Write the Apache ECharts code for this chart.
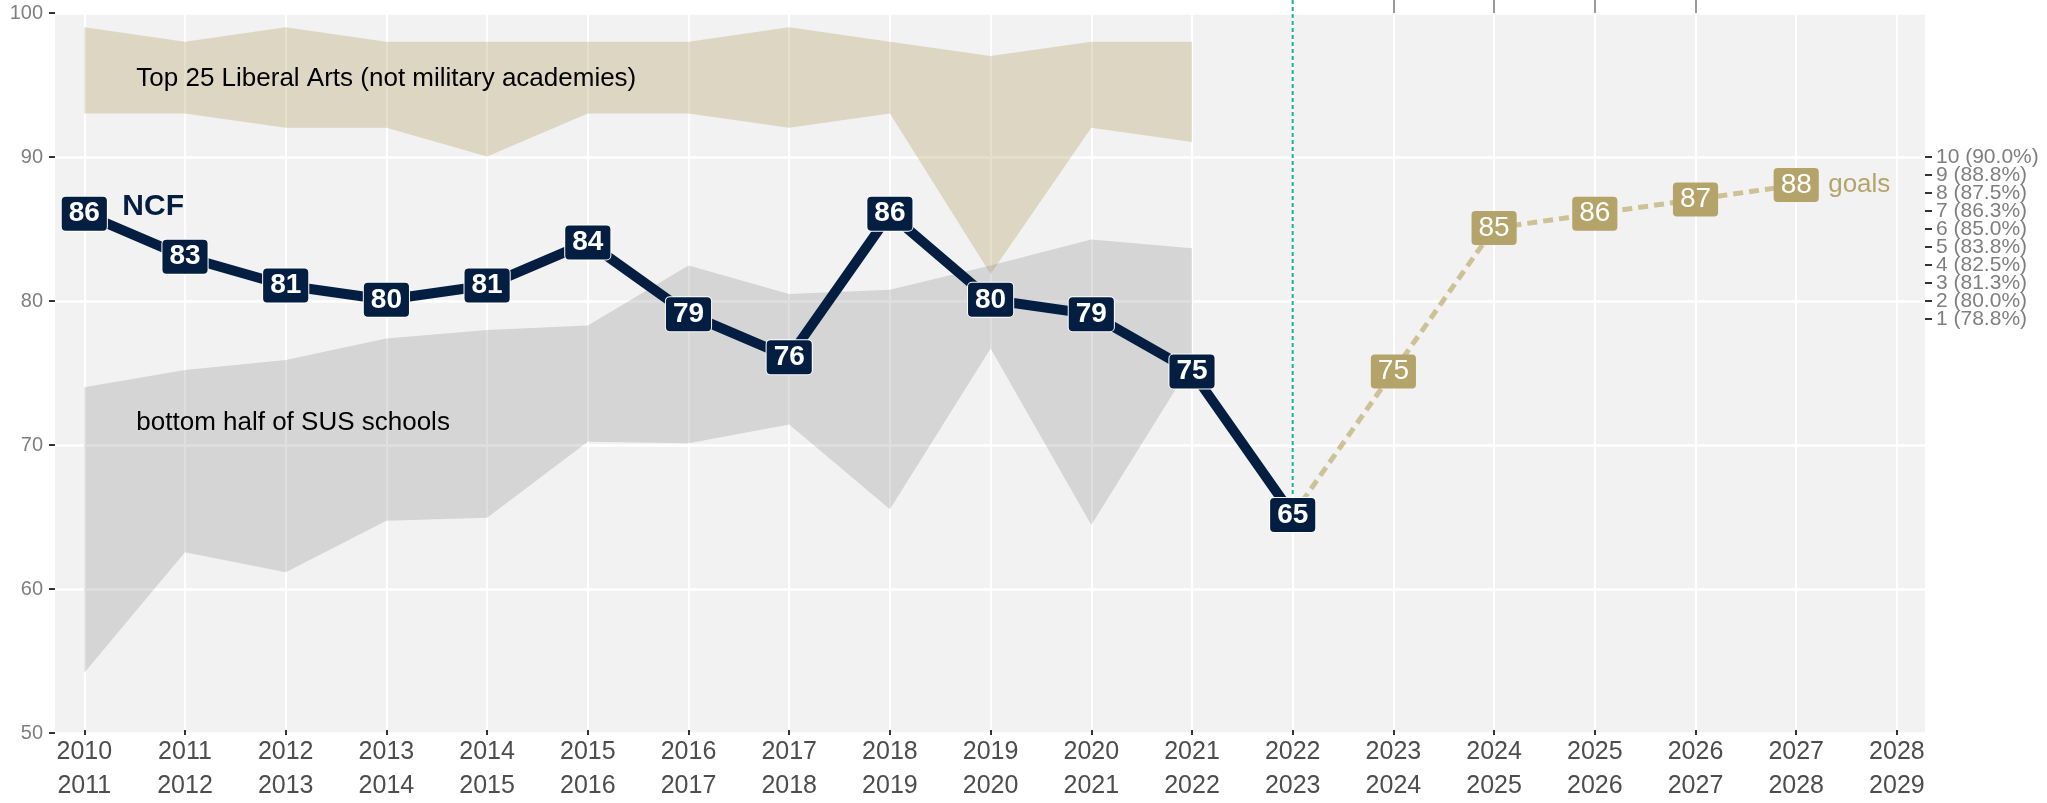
<!DOCTYPE html>
<html>
<head>
<meta charset="utf-8">
<script src="https://cdn.jsdelivr.net/npm/echarts@6/dist/echarts.min.js"></script>
<style>
  html, body { margin: 0; padding: 0; background: #fff; }
  #chart { width: 2047px; height: 803px; }
</style>
</head>
<body>
<div id="chart"></div>
<script>
const schoolYears = [
  '2010\n2011', '2011\n2012', '2012\n2013', '2013\n2014', '2014\n2015',
  '2015\n2016', '2016\n2017', '2017\n2018', '2018\n2019', '2019\n2020',
  '2020\n2021', '2021\n2022', '2022\n2023', '2023\n2024', '2024\n2025',
  '2025\n2026', '2026\n2027', '2027\n2028', '2028\n2029'
];

// NCF rates 2010-2022
const ncfRates = [86, 83, 81, 80, 81, 84, 79, 76, 86, 80, 79, 75, 65];

// goals, starting from the last actual value
const goalYearIdx = [12, 13, 14, 15, 16, 17];
const goalRates = [65, 75, 85, 86, 87, 88];

// peer bands 2010-2021
const top25Low = [93, 93, 92, 92, 90, 93, 93, 92, 93, 81.8, 92, 91];
const top25High = [99, 98, 99, 98, 98, 98, 98, 99, 98, 97, 98, 98];
const susLow = [54, 62.4, 61, 64.6, 64.8, 70.1, 70, 71.3, 65.4, 76.6, 64.3, 75.6];
const susHigh = [73.9, 75.1, 75.8, 77.3, 77.9, 78.2, 82.4, 80.4, 80.7, 82.4, 84.2, 83.6];

// right axis: rank goal steps
const rankTickValues = [78.75, 80, 81.25, 82.5, 83.75, 85, 86.25, 87.5, 88.75, 90];
const rankTickLabels = ['1 (78.8%)', '2 (80.0%)', '3 (81.3%)', '4 (82.5%)', '5 (83.8%)',
  '6 (85.0%)', '7 (86.3%)', '8 (87.5%)', '9 (88.8%)', '10 (90.0%)'];

const topTickIdx = [13, 14, 15, 16];

// vertical marker at the current year
const markerIdx = 12;
const markerRange = [65, 100.9];

const noteTexts = ['Top 25 Liberal Arts (not military academies)', 'bottom half of SUS schools'];
const noteValues = [95.4, 71.4];

const NAVY = '#041e42';
const GOLD = '#b5a46a';
const FONT = '"Liberation Sans", Arial, Helvetica, sans-serif';

const chart = echarts.init(document.getElementById('chart'), null, { renderer: 'canvas' });

const bandSeries = (name, low, high, color) => [
  {
    name: name + '-low',
    type: 'line',
    xAxisIndex: 1,
    yAxisIndex: 1,
    stack: name,
    data: low,
    symbol: 'none',
    lineStyle: { width: 0, opacity: 0 },
    silent: true
  },
  {
    name: name,
    type: 'line',
    xAxisIndex: 1,
    yAxisIndex: 1,
    stack: name,
    data: high.map((v, i) => +(v - low[i]).toFixed(2)),
    symbol: 'none',
    lineStyle: { width: 0, opacity: 0 },
    areaStyle: { color: color, opacity: 1 },
    silent: true
  }
];

const textPoint = (x, y, text, style) => ({
  type: 'scatter',
  xAxisIndex: 1,
  yAxisIndex: 1,
  data: [[x, y]],
  symbolSize: 1,
  itemStyle: { color: 'transparent', opacity: 1 },
  silent: true,
  z: 5,
  label: Object.assign({
    show: true,
    position: 'inside',
    align: 'left',
    formatter: text,
    opacity: 1,
    fontFamily: FONT
  }, style)
});

// the rank labels sit closer than their own height, so they are split over two
// right axes (odd / even steps) to keep echarts from hiding any of them
const rankAxis = (parity) => {
  const values = rankTickValues.filter((v, i) => i % 2 === parity);
  return {
    type: 'value',
    gridIndex: 0,
    position: 'right',
    min: 50,
    max: 100,
    axisLine: { show: false },
    axisTick: { show: true, length: 7, customValues: values, lineStyle: { color: '#333', width: 2 } },
    axisLabel: {
      customValues: values,
      color: '#7f7f7f',
      fontSize: 21,
      margin: 11,
      fontFamily: FONT,
      formatter: (v) => rankTickLabels[rankTickValues.indexOf(v)] || ''
    },
    splitLine: { show: false }
  };
};

chart.setOption({
  animation: false,
  textStyle: { fontFamily: FONT },
  grid: [
    { left: 55, right: 122, top: 13, bottom: 70, show: true, backgroundColor: '#f2f2f2', borderWidth: 0 },
    { left: 84.3, right: 150.1, top: 13, bottom: 70 }
  ],
  xAxis: [
    { type: 'value', gridIndex: 0, min: 0, max: 1, show: false },
    {
      type: 'category',
      gridIndex: 1,
      data: schoolYears,
      boundaryGap: false,
      axisLine: { show: false },
      axisTick: { show: true, interval: 0, length: 5, lineStyle: { color: '#333', width: 2 } },
      axisLabel: { interval: 0, color: '#4d4d4d', fontSize: 25, lineHeight: 34, margin: 5, fontFamily: FONT },
      splitLine: { show: true, interval: 0, lineStyle: { color: '#ffffff', width: 2 } }
    },
    {
      type: 'category',
      gridIndex: 1,
      position: 'top',
      data: schoolYears,
      boundaryGap: false,
      axisLine: { show: false },
      axisLabel: { show: false },
      splitLine: { show: false },
      axisTick: {
        show: true,
        interval: (i) => topTickIdx.includes(i),
        length: 13,
        lineStyle: { color: '#9a9a9a', width: 2 }
      }
    }
  ],
  yAxis: [
    {
      type: 'value',
      gridIndex: 0,
      min: 50,
      max: 100,
      interval: 10,
      axisLine: { show: false },
      axisTick: { show: true, length: 6, lineStyle: { color: '#333', width: 2 } },
      axisLabel: { color: '#7f7f7f', fontSize: 20, margin: 12, fontFamily: FONT },
      splitLine: { show: true, lineStyle: { color: '#ffffff', width: 2.5 } }
    },
    { type: 'value', gridIndex: 1, min: 50, max: 100, show: false },
    rankAxis(0),
    rankAxis(1)
  ],
  series: [
    ...bandSeries('top25', top25Low, top25High, 'rgba(181,164,106,0.35)'),
    ...bandSeries('sus', susLow, susHigh, 'rgba(127,127,127,0.25)'),
    {
      name: 'marker',
      type: 'line',
      xAxisIndex: 1,
      yAxisIndex: 1,
      data: markerRange.map((v) => [markerIdx, v]),
      symbol: 'none',
      clip: false,
      silent: true,
      lineStyle: { color: '#1ab394', width: 2, type: [4, 3] }
    },
    {
      name: 'goals',
      type: 'line',
      xAxisIndex: 1,
      yAxisIndex: 1,
      data: goalRates.map((v, i) => ({
        value: [goalYearIdx[i], v],
        label: { show: i > 0 }
      })),
      symbol: 'circle',
      symbolSize: 1,
      itemStyle: { color: '#cdc196' },
      lineStyle: { color: '#cdc196', width: 5, type: [10, 6] },
      label: {
        show: true,
        position: 'inside',
        formatter: (p) => p.value[1],
        color: '#ffffff',
        fontSize: 28,
        fontFamily: FONT,
        backgroundColor: GOLD,
        padding: [3, 7, 3, 7],
        borderRadius: 4
      }
    },
    {
      name: 'NCF',
      type: 'line',
      xAxisIndex: 1,
      yAxisIndex: 1,
      data: ncfRates,
      symbol: 'circle',
      symbolSize: 1,
      itemStyle: { color: NAVY },
      lineStyle: { color: NAVY, width: 10 },
      label: {
        show: true,
        position: 'inside',
        formatter: '{c}',
        color: '#ffffff',
        fontWeight: 'bold',
        fontSize: 28,
        fontFamily: FONT,
        backgroundColor: NAVY,
        borderColor: '#ffffff',
        borderWidth: 1,
        padding: [3, 7, 3, 7],
        borderRadius: 4
      }
    },
    textPoint(0, ncfRates[0], 'NCF', { color: NAVY, fontWeight: 'bold', fontSize: 30, offset: [38, -7] }),
    textPoint(goalYearIdx[goalYearIdx.length - 1], goalRates[goalRates.length - 1], 'goals',
      { color: GOLD, fontSize: 26, offset: [32, 0] }),
    textPoint(0, noteValues[0], noteTexts[0], { color: '#000000', fontSize: 26, offset: [52, 0] }),
    textPoint(0, noteValues[1], noteTexts[1], { color: '#000000', fontSize: 26, offset: [52, 0] })
  ]
});
</script>
</body>
</html>
